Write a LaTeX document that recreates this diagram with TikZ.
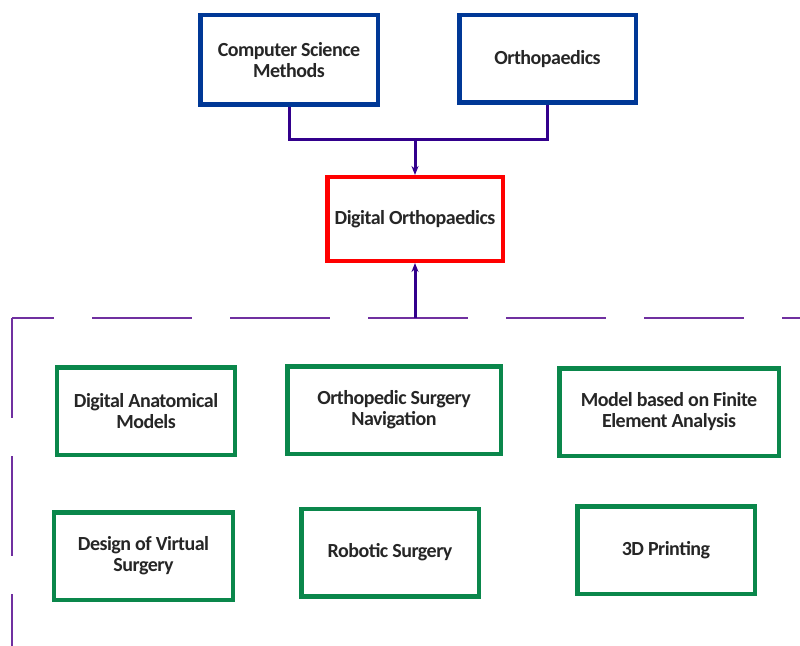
\documentclass[tikz,border=0pt]{standalone}
\usepackage{fontspec}
\setmainfont{Carlito}[LetterSpace=-2.5]
\usetikzlibrary{arrows.meta}
\definecolor{boxblue}{RGB}{0, 56, 150}
\definecolor{boxgreen}{RGB}{10, 135, 75}
\definecolor{linkindigo}{RGB}{50, 0, 140}
\definecolor{framepurple}{RGB}{112, 48, 160}

\begin{document}
\begin{tikzpicture}[x=1bp, y=-1bp,
    box/.style={draw, line width=4.5bp, align=center, inner sep=0pt, text=black!85,
      font=\fontsize{20bp}{21bp}\selectfont\bfseries},
    link/.style={linkindigo, line width=3bp},
    frame/.style={framepurple, line width=2.5bp, dash pattern=on 100bp off 38bp}]
    \useasboundingbox (0,0) rectangle (800,646);
    % top sources
    \node[box, draw=boxblue, minimum width=177.5bp, minimum height=89.5bp] (csm) at (289,60) {Computer Science\\Methods};
    \node[box, draw=boxblue, minimum width=176.5bp, minimum height=87.5bp] (ortho) at (547.5,59) {Orthopaedics};
    \node[box, draw=red, minimum width=175.5bp, minimum height=83.5bp] (dig) at (415,219) {Digital Orthopaedics};
    \coordinate (join) at (415,140);
    \draw[link] (csm.south) |- (join) -| (ortho.south);
    \draw[link, -{Stealth[length=9bp, width=7bp]}] (join) -- (dig.north);
    % application areas
    \foreach \x/\y/\w/\name/\txt in {
        146/411/177.5/dam/{Digital Anatomical\\Models},
        394/410/213.5/osn/{Orthopedic Surgery\\Navigation},
        669/412/219.5/fea/{Model based on Finite\\Element Analysis},
        143.5/556/178.5/dvs/{Design of Virtual\\Surgery},
        390/552.5/177.5/rob/{Robotic Surgery},
        666/550/177.5/prt/{3D Printing}} {
      \node[box, draw=boxgreen, minimum width=\w bp, minimum height=87.5bp] (\name) at (\x,\y) {\txt};
    }
    \coordinate (corner) at (12,318);
    \coordinate (bus) at (415,318);
    \draw[frame, dash phase=58bp] (corner) -- (800,318);
    \draw[frame] (corner) -- (12,646);
    \draw[link, -{Stealth[length=9bp, width=7bp]}] (bus) -- (dig.south);
  \end{tikzpicture}
\end{document}
